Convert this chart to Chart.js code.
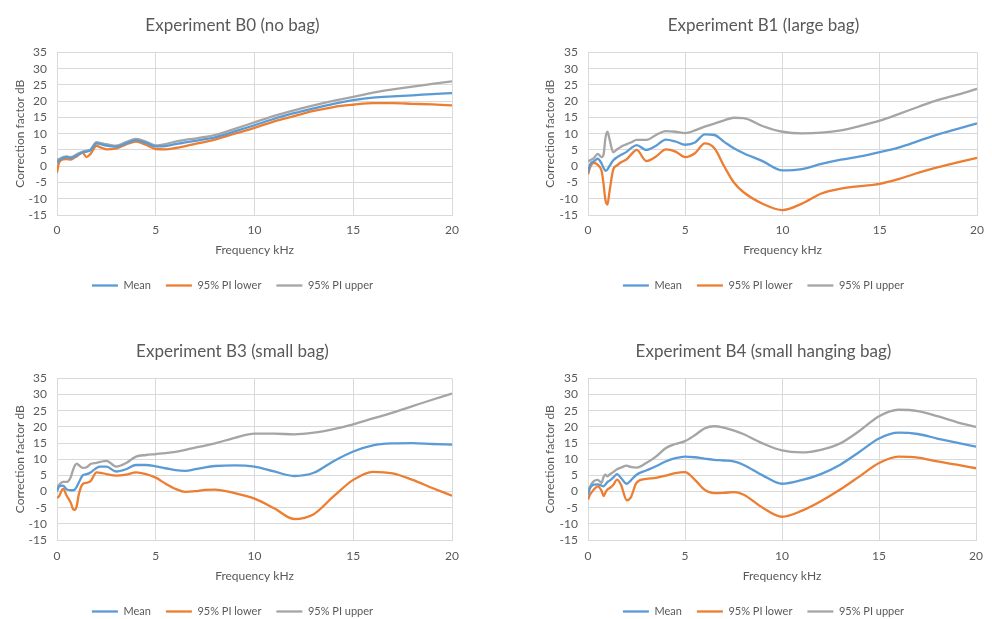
<!DOCTYPE html>
<html>
<head>
<meta charset="utf-8">
<script src="https://cdn.jsdelivr.net/npm/chart.js@4.4.0/dist/chart.umd.min.js"></script>
<style>
  html, body { margin: 0; padding: 0; background: #fff; overflow: hidden; width: 992px; height: 619px; }
  canvas { position: absolute; }
</style>
</head>
<body>
<canvas id="b0" width="496" height="310" style="left:0;top:0"></canvas>
<canvas id="b1" width="496" height="310" style="left:496px;top:0"></canvas>
<canvas id="b3" width="496" height="330" style="left:0;top:310px"></canvas>
<canvas id="b4" width="496" height="330" style="left:496px;top:310px"></canvas>
<script>
// frequency points (kHz), shared by all four experiments
const freq = [0, 0.1, 0.3, 0.5, 0.7, 0.8, 0.9, 1.0, 1.1, 1.3, 1.5, 1.7, 2.0, 2.2, 2.5, 3.0, 3.5, 4.0, 4.5, 5.0,
  5.5, 6.0, 6.5, 7.0, 7.5, 8.0, 9, 10, 11, 12, 13, 14, 15, 16, 17, 18, 19, 20];

// Experiment B0 (no bag)
const b0Mean  = [1, 1.8, 2.5, 2.8, 2.5, 2.7, 3.0, 3.3, 3.7, 4.3, 4.5, 4.9, 7.0, 6.8, 6.3, 6.0, 7.0, 8.0, 7.2, 6.1,
  6.2, 6.8, 7.3, 7.8, 8.3, 8.9, 10.7, 12.6, 14.6, 16.3, 17.8, 19.2, 20.3, 21.1, 21.5, 21.8, 22.2, 22.5];
const b0Lower = [-2, 1, 2.1, 2.2, 2, 2.3, 2.7, 3, 3.5, 4.1, 2.8, 3.8, 6.3, 5.8, 5.2, 5.5, 6.7, 7.6, 6.6, 5.3,
  5.2, 5.6, 6.2, 6.9, 7.5, 8.2, 10, 11.8, 13.8, 15.4, 17, 18.2, 18.9, 19.4, 19.4, 19.2, 19, 18.7];
const b0Upper = [2, 2.2, 2.8, 3.0, 2.8, 3.0, 3.3, 3.7, 4.0, 4.5, 4.8, 5.2, 7.4, 7.1, 6.8, 6.3, 7.4, 8.4, 7.6, 6.4,
  6.8, 7.6, 8.1, 8.5, 9.0, 9.6, 11.5, 13.5, 15.5, 17.2, 18.7, 20.1, 21.3, 22.6, 23.6, 24.5, 25.3, 26.1];

// Experiment B1 (large bag)
const b1Mean  = [-2, 0.5, 1.5, 2.3, 0.8, -0.5, -1.4, -1.0, 0, 1.8, 2.8, 3.5, 4.5, 5.5, 6.5, 5.0, 6.3, 8.2, 7.6, 6.6,
  7.3, 9.8, 9.6, 7.5, 5.5, 4.0, 1.5, -1.3, -0.9, 0.7, 2.0, 3.0, 4.3, 5.8, 7.8, 9.8, 11.5, 13.2];
const b1Lower = [-2.5, -0.5, 1, 0.4, -1.5, -5.5, -10.5, -11.8, -8, -1, 0.3, 1.2, 2.2, 3.5, 5.0, 1.6, 3.0, 5.2, 4.5, 2.8,
  4.0, 7.0, 5.5, 0, -5, -8, -11.6, -13.5, -11.5, -8.4, -6.9, -6.1, -5.4, -3.9, -2.0, -0.3, 1.2, 2.6];
const b1Upper = [1.5, 1.8, 2.5, 3.8, 2.8, 3.6, 8.8, 10.6, 8.5, 4.3, 5.2, 6, 6.8, 7.3, 8.1, 8.1, 9.6, 10.8, 10.6, 10.2,
  11.0, 12.2, 13.1, 14.1, 14.9, 14.8, 12.3, 10.6, 10.1, 10.3, 11.0, 12.4, 14.0, 16.1, 18.3, 20.4, 22.0, 23.8];

// Experiment B3 (small bag)
const b3Mean  = [0, 1.5, 1.8, 0.6, 0.4, 0.4, 0.6, 1.5, 2.7, 5.0, 5.4, 5.9, 7.3, 7.7, 7.7, 6.2, 6.9, 8.2, 8.2, 7.8,
  7.2, 6.6, 6.4, 6.9, 7.5, 7.9, 8.1, 7.7, 6.2, 4.8, 5.8, 9.4, 12.4, 14.3, 14.9, 15.0, 14.7, 14.5];
const b3Lower = [-2, -1.5, 0.8, -1.4, -3.5, -5.3, -5.7, -4.5, -1, 2.3, 2.7, 3.2, 5.9, 5.8, 5.4, 4.9, 5.2, 5.9, 5.4, 4.3,
  2.4, 0.8, -0.1, 0.1, 0.5, 0.6, -0.5, -2.2, -5.2, -8.5, -7.0, -1.5, 3.6, 6.1, 5.6, 3.6, 1.1, -1.3];
const b3Upper = [1, 2, 3, 3, 4.5, 6.5, 8, 8.6, 8.2, 7.3, 7.5, 8.5, 8.9, 9.2, 9.5, 7.7, 8.8, 10.8, 11.3, 11.6,
  11.9, 12.3, 12.9, 13.6, 14.2, 14.9, 16.6, 17.9, 17.9, 17.7, 18.2, 19.3, 20.8, 22.6, 24.4, 26.4, 28.4, 30.3];

// Experiment B4 (small hanging bag)
const b4Mean  = [-1, 1, 2.1, 2.2, 1.8, 1.6, 2.2, 2.9, 3.3, 4.3, 5.4, 4.2, 2.4, 3.4, 5.2, 6.5, 7.8, 9.3, 10.3, 10.8,
  10.6, 10.2, 9.8, 9.6, 9.3, 8.3, 5.0, 2.4, 3.5, 5.4, 8.3, 12.3, 16.4, 18.2, 17.8, 16.4, 15.1, 13.9];
const b4Lower = [-2.5, -1, 0.6, 1.6, 0.2, -1.4, -0.3, 0.6, 1.0, 2, 3.7, 2.1, -2.7, -1.9, 2.7, 3.9, 4.2, 4.9, 5.7, 6.0,
  3.7, 0.6, -0.5, -0.4, -0.2, -0.9, -5, -7.8, -6, -3, 0.6, 4.7, 8.8, 10.8, 10.5, 9.3, 8.3, 7.2];
const b4Upper = [0, 1.5, 3.2, 3.6, 2.7, 4.5, 5.2, 4.7, 5.2, 6.0, 6.9, 7.4, 8.0, 7.6, 7.4, 8.8, 10.8, 13.4, 14.7, 15.6,
  17.4, 19.5, 20.2, 19.8, 18.9, 17.8, 14.9, 12.7, 12.1, 12.9, 14.9, 18.8, 23.3, 25.3, 24.9, 23.3, 21.5, 20];

const seriesNames = ['Mean', '95% PI lower', '95% PI upper'];
const seriesColors = ['#5b9bd5', '#ed7d31', '#a5a5a5'];

Chart.defaults.font.family = 'Lato, "Open Sans", sans-serif';
Chart.defaults.color = '#595959';

function pts(arr) {
  return freq.map((f, i) => ({ x: f, y: arr[i] }));
}

function makeChart(id, title, series, lay) {
  new Chart(document.getElementById(id), {
    type: 'line',
    data: {
      datasets: series.map((s, i) => ({
        label: seriesNames[i],
        data: pts(s),
        borderColor: seriesColors[i],
        backgroundColor: seriesColors[i],
        borderWidth: 2.3,
        pointRadius: 0,
        cubicInterpolationMode: 'monotone'
      }))
    },
    options: {
      responsive: false,
      animation: false,
      layout: { padding: { left: lay.padL, right: lay.padR, top: 0, bottom: lay.padB } },
      plugins: {
        title: {
          display: true,
          text: title,
          color: '#595959',
          font: { size: 17, weight: 'normal' },
          padding: { top: lay.titleTop, bottom: 17 }
        },
        legend: {
          position: 'bottom',
          labels: {
            usePointStyle: true,
            pointStyle: 'line',
            pointStyleWidth: 26,
            padding: 15,
            font: { size: 11 },
            color: '#595959'
          }
        },
        tooltip: { enabled: false }
      },
      scales: {
        x: {
          type: 'linear',
          min: 0,
          max: 20,
          ticks: { stepSize: 5, autoSkip: false, maxRotation: 0, padding: lay.xTickPad, font: { size: 12 } },
          grid: { color: '#d9d9d9', drawTicks: false },
          border: { color: '#d9d9d9' },
          title: { display: true, text: 'Frequency kHz', font: { size: 12 }, padding: { top: 0, bottom: 8 } },
          afterFit: s => { s.height = lay.xHeight; }
        },
        y: {
          min: -15,
          max: 35,
          ticks: { stepSize: 5, autoSkip: false, padding: 10, font: { size: 12 } },
          grid: { color: '#d9d9d9', drawTicks: false },
          border: { color: '#d9d9d9' },
          title: { display: true, text: 'Correction factor dB', font: { size: 12 }, padding: { top: 0, bottom: 0 } },
          afterFit: s => { s.width = lay.yWidth; }
        }
      }
    }
  });
}

const topLeft  = { padL: 13, padR: 44, padB: 9,  titleTop: 15, xHeight: 50, xTickPad: 8, yWidth: 44 };
const topRight = { padL: 47, padR: 8,  padB: 9,  titleTop: 15, xHeight: 50, xTickPad: 8, yWidth: 45 };
const botLeft  = { padL: 13, padR: 44, padB: 13, titleTop: 31, xHeight: 51, xTickPad: 9, yWidth: 44 };
const botRight = { padL: 47, padR: 8,  padB: 13, titleTop: 31, xHeight: 51, xTickPad: 9, yWidth: 45 };

makeChart('b0', 'Experiment B0 (no bag)', [b0Mean, b0Lower, b0Upper], topLeft);
makeChart('b1', 'Experiment B1 (large bag)', [b1Mean, b1Lower, b1Upper], topRight);
makeChart('b3', 'Experiment B3 (small bag)', [b3Mean, b3Lower, b3Upper], botLeft);
makeChart('b4', 'Experiment B4 (small hanging bag)', [b4Mean, b4Lower, b4Upper], botRight);
</script>
</body>
</html>
